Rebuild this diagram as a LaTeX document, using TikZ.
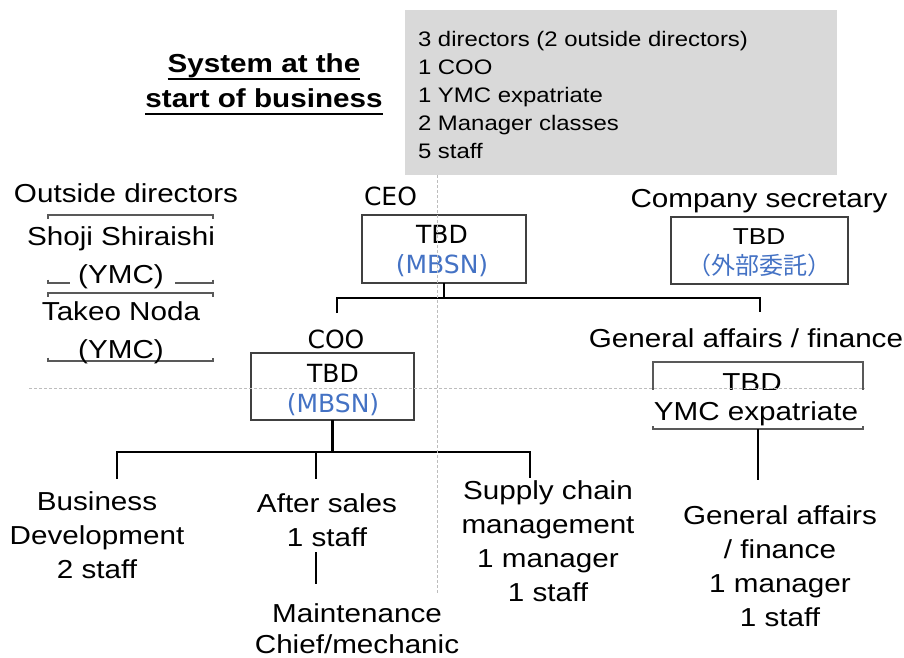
\documentclass[tikz,border=0pt]{standalone}
\usepackage{fontspec}
\setmainfont{Liberation Sans}[FakeStretch=1.14]
\newfontfamily\boxfont{DejaVu Sans}
\newfontfamily\jpfont{Noto Sans CJK JP}
\definecolor{namecol}{HTML}{4472C4}
\definecolor{panelgray}{HTML}{D9D9D9}
\definecolor{framegray}{HTML}{404040}
\definecolor{bracketgray}{HTML}{595959}
\definecolor{guidegray}{HTML}{BDBDBD}
% heading line with a rule drawn below the baseline
\newcommand\titleline[1]{\setbox0\hbox{#1}\rlap{\rule[-7.8pt]{\wd0}{1.8pt}}\box0}
\begin{document}
\begin{tikzpicture}[x=1pt,y=-1pt,
  every node/.style={inner sep=0pt,outer sep=0pt},
  % multi-line texts are placed by the baseline of their last line
  txt/.style={anchor=base,align=center,font=\fontsize{26}{33.7}\selectfont},
  dirtxt/.style={anchor=base,align=center,font=\fontsize{26}{38}\selectfont},
  boxtxt/.style={anchor=base,align=center,font=\boxfont\fontsize{25}{30}\selectfont},
  orgbox/.style={draw=framegray,line width=1.3pt},
  bracket/.style={draw=bracketgray,line width=1.3pt},
  conn/.style={draw=black,line width=2.3pt},
  guide/.style={draw=guidegray,line width=0.9pt,dash pattern=on 2.5pt off 2.5pt}]
\useasboundingbox (0,0) rectangle (904,657);

% summary panel
\node[fill=panelgray,minimum width=432pt,minimum height=165pt,anchor=north west] (panel) at (405,10) {};
\node[anchor=base west,align=left,font=\fontsize{21}{27.8}\selectfont] (paneltext) at (418,158)
  {3 directors (2 outside directors)\\1 COO\\1 YMC expatriate\\2 Manager classes\\5 staff};

% heading
\node[anchor=base,align=center,font=\bfseries\fontsize{26}{35}\selectfont] (title) at (264,107)
  {\titleline{System at the}\\\titleline{start of business}};

% outside directors
\node[txt] (odlabel) at (126,202) {Outside directors};
\node[minimum width=165pt,minimum height=68pt] (dirbox1) at (130.5,249) {};
\node[minimum width=165pt,minimum height=68pt] (dirbox2) at (130.5,327) {};
\draw[bracket] ([yshift=-3.5pt]dirbox1.north west) -- (dirbox1.north west) -- (dirbox1.north east) -- ([yshift=-3.5pt]dirbox1.north east);
\draw[bracket] ([yshift=3.5pt]dirbox1.south west) -- (dirbox1.south west) -- ++(22,0);
\draw[bracket] ([yshift=3.5pt]dirbox1.south east) -- (dirbox1.south east) -- ++(-38,0);
\draw[bracket] ([yshift=-3.5pt]dirbox2.north west) -- (dirbox2.north west) -- (dirbox2.north east) -- ([yshift=-3.5pt]dirbox2.north east);
\draw[bracket] ([yshift=3.5pt]dirbox2.south west) -- (dirbox2.south west) -- (dirbox2.south east) -- ([yshift=3.5pt]dirbox2.south east);
\node[dirtxt] (shoji) at (121,283) {Shoji Shiraishi\\(YMC)};
\node[dirtxt] (noda) at (121,358) {Takeo Noda\\(YMC)};

% CEO
\node[anchor=base west,font=\boxfont\fontsize{25}{30}\selectfont] (ceolabel) at (364,205) {CEO};
\node[orgbox,minimum width=164pt,minimum height=68pt] (ceo) at (444,249) {};
\node[boxtxt] (ceoname) at (442,273) {TBD\\\textcolor{namecol}{(MBSN)}};

% company secretary
\node[txt] (seclabel) at (759,207) {Company secretary};
\node[orgbox,minimum width=177pt,minimum height=67pt] (sec) at (759.5,250.5) {};
\node[anchor=base,font=\fontsize{23}{29}\selectfont] (secname) at (759,244) {TBD};
\node[anchor=base,font=\jpfont\fontsize{24}{29}\selectfont,text=namecol] (secnote) at (759,274) {（外部委託）};

% COO
\node[anchor=base,font=\boxfont\fontsize{25}{30}\selectfont] (coolabel) at (336,348) {COO};
\node[orgbox,minimum width=163pt,minimum height=67pt] (coo) at (332.5,386.5) {};
\node[boxtxt] (cooname) at (333,412) {TBD\\\textcolor{namecol}{(MBSN)}};

% general affairs / finance
\node[txt] (galabel) at (746,347) {General affairs / finance};
\node[minimum width=210pt,minimum height=67pt] (gabox) at (758,395.5) {};
\draw[bracket] ([yshift=-30pt]gabox.north west) -- (gabox.north west) -- (gabox.north east) -- ([yshift=-30pt]gabox.north east);
\draw[bracket] ([yshift=3.5pt]gabox.south west) -- (gabox.south west) -- (gabox.south east) -- ([yshift=3.5pt]gabox.south east);
\node[txt] (gatbd) at (752,391) {TBD};
\node[txt,fill=white,text height=30pt,text depth=6pt,minimum width=216pt] (gaymc) at (756,420) {YMC expatriate};

% teams
\node[txt] (bizdev) at (97,578) {Business\\Development\\2 staff};
\node[txt] (aftersales) at (327,546) {After sales\\1 staff};
\node[txt,font=\fontsize{26}{31}\selectfont] (maint) at (357,653) {Maintenance\\Chief/mechanic};
\node[txt] (supply) at (548,601) {Supply chain\\management\\1 manager\\1 staff};
\node[txt] (gateam) at (780,626) {General affairs\\/ finance\\1 manager\\1 staff};

% reporting lines
\coordinate (bus1) at (443,298);
\coordinate (cooTop) at (337,313);
\coordinate (gaTop) at (760,312);
\draw[conn] (ceo.south) -- (ceo.south |- bus1);
\draw[conn] (cooTop) -- (cooTop |- bus1) -- (gaTop |- bus1) -- (gaTop);

\coordinate (bus2) at (332,452);
\coordinate (bizTop) at (117,479);
\coordinate (asTop) at (316,479);
\coordinate (scTop) at (530,478);
\draw[conn] (coo.south) -- (coo.south |- bus2);
\draw[conn] (bizTop) -- (bizTop |- bus2) -- (scTop |- bus2) -- (scTop);
\draw[conn] (asTop |- bus2) -- (asTop);
\coordinate (asBottom) at (316,552);
\coordinate (maintTop) at (316,584);
\draw[conn] (asBottom) -- (maintTop);
\coordinate (gaTeamTop) at (758,480);
\draw[conn] (gabox.south) -- (gaTeamTop);

% guide lines
\draw[guide] (29,388) -- (865,388);
\draw[guide] (437,175) -- (437,593);
\end{tikzpicture}
\end{document}
